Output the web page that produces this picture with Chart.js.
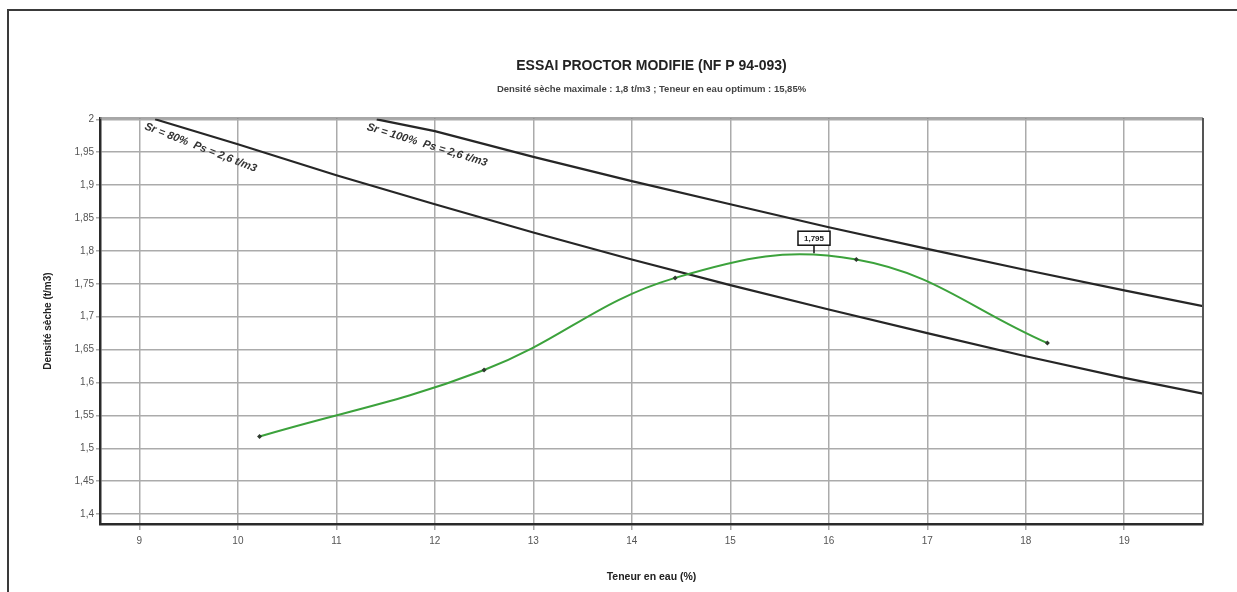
<!DOCTYPE html>
<html>
<head>
<meta charset="utf-8">
<title>Essai Proctor modifié</title>
<script src="https://cdn.jsdelivr.net/npm/chart.js@4.4.1/dist/chart.umd.min.js"></script>
<style>
    html, body { margin: 0; padding: 0; background: #fff; overflow: hidden; }
    #wrap { position: relative; width: 1237px; height: 592px; }
    #frame { position: absolute; left: 7px; top: 9px; width: 1260px; height: 620px; border-left: 2px solid #3a3a3a; border-top: 2px solid #3a3a3a; }
    canvas { position: absolute; left: 0; top: 0; }
</style>
</head>
<body>
<div id="wrap">
    <div id="frame"></div>
    <canvas id="proctorChart" width="1237" height="592"></canvas>
</div>
<script>
// points mesurés de l'essai
const waterContent = [10.22, 12.5, 14.44, 16.28, 18.22]
const dryDensity = [1.518, 1.619, 1.759, 1.787, 1.66]

// optimum affiché sur la courbe
const optimumWater = 15.85
const optimumDensity = 1.795

// courbes de saturation
const sr80Water = [9.16, 10, 11, 12, 13, 14, 15, 16, 17, 18, 19, 19.8]
const sr80Density = [2.0, 1.962, 1.915, 1.871, 1.828, 1.787, 1.748, 1.711, 1.675, 1.64, 1.607, 1.583]
const sr100Water = [11.41, 12, 13, 14, 15, 16, 17, 18, 19, 19.8]
const sr100Density = [2.0, 1.982, 1.943, 1.906, 1.871, 1.836, 1.803, 1.771, 1.74, 1.716]

// graduations
const xTickValues = [9, 10, 11, 12, 13, 14, 15, 16, 17, 18, 19]
const yTickValues = [1.4, 1.45, 1.5, 1.55, 1.6, 1.65, 1.7, 1.75, 1.8, 1.85, 1.9, 1.95, 2]

const FONT = '"Liberation Sans", Arial, sans-serif'

function toPoints(xs, ys) {
    return xs.map((x, i) => ({ x, y: ys[i] }))
}

function frNumber(v) {
    return String(Number(v.toFixed(3))).replace('.', ',')
}

// texte incliné le long des courbes de saturation
const lineLabels = {
    id: 'lineLabels',
    afterDatasetsDraw(chart) {
        const ctx = chart.ctx
        chart.data.datasets.forEach((ds, i) => {
            if (!ds.lineLabel) return
            const pts = chart.getDatasetMeta(i).data
            const a = pts[0], b = pts[2]
            const angle = Math.atan2(b.y - a.y, b.x - a.x) + ds.labelTilt
            ctx.save()
            ctx.translate(a.x, a.y)
            ctx.rotate(angle)
            ctx.font = 'italic bold 11px ' + FONT
            ctx.fillStyle = '#333'
            ctx.textBaseline = 'alphabetic'
            ctx.fillText(ds.lineLabel, -7, 13)
            ctx.restore()
        })
    }
}

// étiquette de l'optimum
const peakLabel = {
    id: 'peakLabel',
    afterDatasetsDraw(chart) {
        const idx = chart.data.datasets.findIndex(d => d.peakLabel)
        if (idx < 0) return
        const p = chart.getDatasetMeta(idx).data[0]
        const ctx = chart.ctx
        const text = frNumber(chart.data.datasets[idx].data[0].y)
        ctx.save()
        ctx.font = 'bold 8px ' + FONT
        const w = ctx.measureText(text).width + 12
        const h = 14
        const top = p.y - 9 - h
        ctx.strokeStyle = '#111'
        ctx.lineWidth = 1.5
        ctx.beginPath()
        ctx.moveTo(p.x, p.y - 1)
        ctx.lineTo(p.x, p.y - 9)
        ctx.stroke()
        ctx.fillStyle = '#fff'
        ctx.fillRect(p.x - w / 2, top, w, h)
        ctx.strokeRect(p.x - w / 2, top, w, h)
        ctx.fillStyle = '#222'
        ctx.textAlign = 'center'
        ctx.textBaseline = 'middle'
        ctx.fillText(text, p.x, top + h / 2 + 0.5)
        ctx.restore()
    }
}

// bords haut et droit du cadre
const plotFrame = {
    id: 'plotFrame',
    afterDraw(chart) {
        const { ctx, chartArea: a } = chart
        ctx.save()
        ctx.strokeStyle = '#8a8a8a'
        ctx.lineWidth = 1.5
        ctx.beginPath()
        ctx.moveTo(a.left, a.top)
        ctx.lineTo(a.right, a.top)
        ctx.stroke()
        ctx.strokeStyle = '#555'
        ctx.lineWidth = 2
        ctx.beginPath()
        ctx.moveTo(a.right, a.top)
        ctx.lineTo(a.right, a.bottom)
        ctx.stroke()
        ctx.restore()
    }
}

const chart = new Chart(document.getElementById('proctorChart'), {
    type: 'scatter',
    data: {
        datasets: [
            {
                data: toPoints(waterContent, dryDensity),
                showLine: true,
                borderColor: '#3ca23c',
                borderWidth: 2,
                tension: 0.4,
                pointStyle: 'rectRot',
                pointRadius: 2.5,
                pointBackgroundColor: '#2f3a2f',
                pointBorderColor: '#2f3a2f',
                pointBorderWidth: 0
            },
            {
                data: toPoints(sr80Water, sr80Density),
                lineLabel: 'Sr = 80%  Ps = 2,6 t/m3',
                labelTilt: 0.07,
                showLine: true,
                borderColor: '#262626',
                borderWidth: 2.2,
                pointRadius: 0
            },
            {
                data: toPoints(sr100Water, sr100Density),
                lineLabel: 'Sr = 100%  Ps = 2,6 t/m3',
                labelTilt: 0.06,
                showLine: true,
                borderColor: '#262626',
                borderWidth: 2.2,
                pointRadius: 0
            },
            {
                data: [{ x: optimumWater, y: optimumDensity }],
                peakLabel: true,
                pointRadius: 0
            }
        ]
    },
    options: {
        responsive: false,
        animation: false,
        layout: { padding: { left: 0, right: 34, top: 0, bottom: 0 } },
        plugins: {
            legend: { display: false },
            tooltip: { enabled: false },
            title: {
                display: true,
                fullSize: false,
                text: 'ESSAI PROCTOR MODIFIE (NF P 94-093)',
                color: '#222',
                font: { family: FONT, size: 14, weight: 'bold' },
                padding: { top: 57.6, bottom: 0 }
            },
            subtitle: {
                display: true,
                fullSize: false,
                text: 'Densité sèche maximale : 1,8 t/m3 ; Teneur en eau optimum : 15,85%',
                color: '#444',
                font: { family: FONT, size: 9.5, weight: 'bold' },
                padding: { top: 8.9, bottom: 23.3 }
            }
        },
        scales: {
            x: {
                type: 'linear',
                min: 8.6,
                max: 19.8,
                afterFit: s => { s.height = 68 },
                afterBuildTicks: s => { s.ticks = xTickValues.map(v => ({ value: v })) },
                ticks: {
                    color: '#555',
                    font: { family: FONT, size: 10 },
                    padding: 5,
                    maxRotation: 0,
                    callback: v => frNumber(v)
                },
                grid: { color: '#ababab', lineWidth: 1.5, tickLength: 6 },
                border: { color: '#2a2a2a', width: 2.5 },
                title: {
                    display: true,
                    text: 'Teneur en eau (%)',
                    color: '#222',
                    font: { family: FONT, size: 10.5, weight: 'bold' },
                    padding: { top: 0, bottom: 9 }
                }
            },
            y: {
                type: 'linear',
                min: 1.385,
                max: 2.002,
                afterFit: s => { s.width = 100 },
                afterBuildTicks: s => { s.ticks = yTickValues.map(v => ({ value: v })) },
                ticks: {
                    color: '#555',
                    font: { family: FONT, size: 10 },
                    padding: 2,
                    callback: v => frNumber(v)
                },
                grid: { color: '#ababab', lineWidth: 1.5, tickLength: 4 },
                border: { color: '#2a2a2a', width: 2.5 },
                title: {
                    display: true,
                    text: 'Densité sèche (t/m3)',
                    color: '#222',
                    font: { family: FONT, size: 10, weight: 'bold' },
                    padding: { top: 42, bottom: 0 }
                }
            }
        }
    },
    plugins: [plotFrame, lineLabels, peakLabel]
})
</script>
</body>
</html>
